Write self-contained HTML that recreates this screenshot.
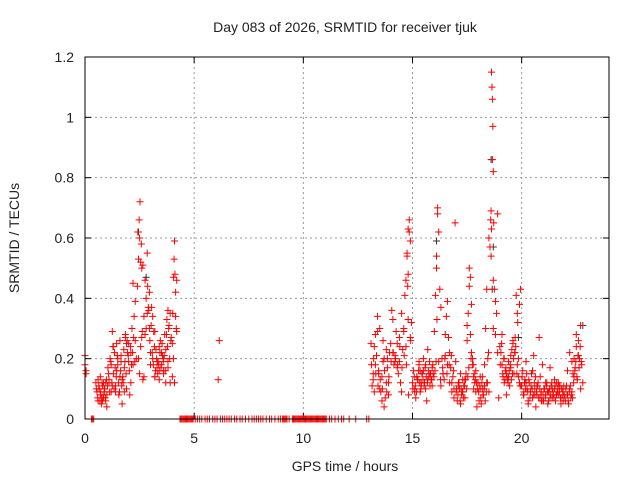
<!DOCTYPE html>
<html><head><meta charset="utf-8"><style>
html,body{margin:0;padding:0;background:#fff}
svg text{font-family:"Liberation Sans",sans-serif;fill:#222}
</style></head><body>
<svg id="chart" width="640" height="480" viewBox="0 0 640 480" xmlns="http://www.w3.org/2000/svg">
<rect width="640" height="480" fill="#fff"/>
<text x="345" y="32" font-size="14" text-anchor="middle">Day 083 of 2026, SRMTID for receiver tjuk</text>
<text x="345" y="471" font-size="14" text-anchor="middle">GPS time / hours</text>
<text transform="translate(19,238) rotate(-90)" font-size="14" text-anchor="middle">SRMTID / TECUs</text>
<g id="grid"></g>
<g id="ticks"></g>
<g id="marks"></g>
<rect x="85" y="57" width="524" height="362" fill="none" stroke="#000" stroke-width="1"/>
</svg>
<script>
const xTicks=[0,5,10,15,20];
const yTicks=[0,0.2,0.4,0.6,0.8,1,1.2];
const yTickLabels=["0","0.2","0.4","0.6","0.8","1","1.2"];
const redTimes=[0,0,0.05,0.05,0.5,0.55,0.6,0.65,0.7,0.75,0.8,0.85,0.9,0.95,1.0,0.6,0.7,0.8,0.9,1.0,0.65,0.75,0.85,0.95,
1.05,1.1,1.15,1.2,1.25,1.3,1.35,1.4,1.45,1.5,1.55,1.6,1.65,1.7,1.75,1.8,1.85,1.9,1.95,1.1,1.2,1.3,1.4,1.5,1.6,1.7,1.8,1.9,1.25,1.45,1.65,1.85,
2.0,2.05,2.1,2.15,2.2,2.25,2.3,2.35,2.0,2.1,2.2,2.3,2.4,2.42,2.45,2.48,2.5,2.52,2.55,2.58,2.6,2.62,2.65,2.7,2.75,2.8,2.85,2.9,2.95,2.45,2.55,2.65,2.75,2.85,2.95,2.5,2.6,2.7,2.8,
3.0,3.05,3.1,3.15,3.2,3.25,3.3,3.35,3.4,3.45,3.5,3.55,3.6,3.65,3.7,3.75,3.8,3.85,3.9,3.95,3.1,3.2,3.3,3.4,3.5,3.6,3.7,3.8,3.9,3.0,3.2,3.4,3.6,3.8,
4.0,4.02,4.05,4.08,4.1,4.12,4.15,4.18,4.2,4.0,4.05,4.1,4.15,4.2,6.1,6.15,
13.1,13.15,13.2,13.25,13.3,13.35,13.4,13.45,13.5,13.55,13.6,13.65,13.7,13.75,13.8,13.85,13.9,13.95,13.2,13.3,13.4,13.5,13.6,13.7,13.8,13.9,13.25,13.45,13.65,13.85,
14.0,14.05,14.1,14.15,14.2,14.25,14.3,14.35,14.4,14.45,14.5,14.55,14.6,14.65,14.7,14.75,14.8,14.85,14.9,14.95,14.1,14.2,14.3,14.4,14.5,14.6,14.7,14.8,14.9,14.75,14.8,14.85,14.78,14.82,
15.0,15.05,15.1,15.15,15.2,15.25,15.3,15.35,15.4,15.45,15.5,15.55,15.6,15.65,15.7,15.75,15.8,15.85,15.9,15.95,15.1,15.2,15.3,15.4,15.5,15.6,15.7,15.8,15.9,15.35,
16.0,16.05,16.1,16.15,16.2,16.25,16.3,16.35,16.4,16.45,16.5,16.55,16.6,16.65,16.7,16.75,16.8,16.85,16.9,16.95,16.1,16.15,16.12,16.2,16.3,16.4,16.5,16.6,16.7,16.8,16.9,
17.0,17.05,17.1,17.15,17.2,17.25,17.3,17.35,17.4,17.45,17.5,17.55,17.6,17.65,17.7,17.75,17.8,17.85,17.9,17.95,17.1,17.2,17.3,17.4,17.5,17.6,17.65,17.7,17.75,17.8,17.9,
18.0,18.05,18.1,18.15,18.2,18.25,18.3,18.35,18.4,18.45,18.5,18.55,18.6,18.62,18.64,18.66,18.68,18.7,18.72,18.75,18.8,18.85,18.9,18.95,18.1,18.2,18.3,18.4,18.5,18.6,18.7,18.8,18.9,18.58,18.62,18.66,18.7,
19.0,19.05,19.1,19.15,19.2,19.25,19.3,19.35,19.4,19.45,19.5,19.55,19.6,19.65,19.7,19.75,19.8,19.85,19.9,19.95,19.1,19.2,19.3,19.4,19.5,19.6,19.7,19.8,19.9,19.82,19.85,
20.0,20.05,20.1,20.15,20.2,20.25,20.3,20.35,20.4,20.45,20.5,20.55,20.6,20.65,20.7,20.75,20.8,20.85,20.9,20.95,20.1,20.2,20.3,20.4,20.5,20.6,20.7,20.8,20.9,
21.0,21.05,21.1,21.15,21.2,21.25,21.3,21.35,21.4,21.45,21.5,21.55,21.6,21.65,21.7,21.75,21.8,21.85,21.9,21.95,21.1,21.2,21.3,21.4,21.5,21.6,21.7,21.8,21.9,
22.0,22.05,22.1,22.15,22.2,22.25,22.3,22.35,22.4,22.45,22.5,22.55,22.6,22.65,22.7,22.75,22.8,22.1,22.2,22.3,22.4,22.5,22.6,22.7,22.8];
const redValues=[0.21,0.18,0.16,0.15,0.12,0.09,0.06,0.1,0.08,0.05,0.11,0.07,0.09,0.12,0.04,0.13,0.14,0.06,0.1,0.08,0.1,0.07,0.12,0.06,
0.17,0.12,0.2,0.09,0.29,0.15,0.22,0.11,0.25,0.18,0.08,0.14,0.21,0.05,0.12,0.17,0.28,0.1,0.22,0.13,0.18,0.24,0.09,0.2,0.26,0.13,0.09,0.25,0.11,0.16,0.19,0.27,
0.19,0.08,0.22,0.3,0.18,0.34,0.26,0.2,0.25,0.12,0.45,0.39,0.44,0.62,0.53,0.66,0.6,0.72,0.52,0.58,0.5,0.29,0.51,0.34,0.46,0.4,0.55,0.37,0.3,0.2,0.24,0.13,0.28,0.35,0.42,0.15,0.27,0.14,0.3,0.22,
0.37,0.2,0.29,0.14,0.23,0.17,0.19,0.13,0.26,0.18,0.21,0.15,0.28,0.23,0.33,0.36,0.31,0.35,0.27,0.34,0.14,0.19,0.16,0.22,0.2,0.12,0.17,0.12,0.18,0.29,0.24,0.16,0.19,0.14,
0.35,0.47,0.53,0.59,0.48,0.42,0.3,0.46,0.25,0.2,0.12,0.34,0.29,0.13,0.26,0.25,
0.11,0.15,0.24,0.28,0.21,0.34,0.16,0.3,0.09,0.14,0.26,0.04,0.07,0.12,0.17,0.08,0.22,0.13,0.18,0.29,0.1,0.06,0.2,0.23,0.12,0.09,0.15,0.19,
0.2,0.25,0.36,0.33,0.18,0.21,0.29,0.25,0.15,0.19,0.12,0.09,0.23,0.3,0.41,0.46,0.54,0.63,0.66,0.27,0.32,0.22,0.19,0.17,0.27,0.35,0.29,0.24,0.33,0.59,0.55,0.48,0.62,0.44,
0.08,0.12,0.16,0.1,0.07,0.14,0.13,0.18,0.09,0.11,0.15,0.2,0.12,0.1,0.06,0.23,0.14,0.11,0.13,0.17,0.15,0.09,0.14,0.19,0.12,0.16,0.18,0.13,0.15,0.11,
0.16,0.29,0.41,0.5,0.68,0.62,0.43,0.37,0.2,0.15,0.13,0.21,0.34,0.39,0.27,0.22,0.17,0.12,0.14,0.1,0.65,0.54,0.7,0.33,0.19,0.11,0.15,0.28,0.18,0.12,0.09,
0.07,0.09,0.06,0.12,0.1,0.05,0.08,0.13,0.11,0.07,0.15,0.26,0.35,0.5,0.47,0.38,0.2,0.14,0.12,0.16,0.04,0.11,0.15,0.09,0.13,0.31,0.44,0.28,0.22,0.18,0.1,
0.09,0.12,0.06,0.1,0.05,0.14,0.08,0.11,0.3,0.43,0.2,0.09,0.57,0.69,1.15,1.1,1.06,0.97,0.82,0.65,0.43,0.28,0.35,0.22,0.07,0.14,0.1,0.18,0.12,0.6,0.54,0.46,0.39,0.68,0.66,0.63,0.86,
0.3,0.24,0.22,0.18,0.14,0.12,0.16,0.08,0.13,0.19,0.11,0.17,0.23,0.25,0.15,0.27,0.41,0.35,0.2,0.12,0.43,0.28,0.2,0.15,0.14,0.21,0.26,0.22,0.18,0.38,0.32,
0.14,0.11,0.16,0.08,0.13,0.19,0.1,0.06,0.12,0.09,0.15,0.07,0.21,0.1,0.04,0.08,0.12,0.27,0.14,0.06,0.18,0.09,0.12,0.05,0.09,0.16,0.08,0.11,0.07,
0.09,0.06,0.1,0.08,0.12,0.05,0.09,0.17,0.11,0.07,0.08,0.1,0.06,0.12,0.09,0.08,0.11,0.07,0.1,0.06,0.08,0.12,0.09,0.07,0.1,0.13,0.08,0.11,0.05,
0.09,0.06,0.11,0.08,0.05,0.1,0.07,0.09,0.15,0.2,0.17,0.24,0.13,0.26,0.2,0.31,0.18,0.12,0.16,0.22,0.19,0.14,0.28,0.21,0.1];
const extraTimes=[0.52,0.58,0.63,0.68,0.72,0.78,0.83,0.88,0.93,0.98,1.03,1.08,1.13,1.18,1.23,1.28,1.33,1.38,1.43,1.48,1.53,1.58,1.63,1.68,1.73,1.78,1.83,1.88,1.93,1.98,2.03,2.08,2.13,2.18,2.23,2.28,
2.87,2.92,2.97,3.03,3.08,3.13,3.18,3.23,3.28,3.33,3.38,3.43,3.48,3.53,3.58,3.63,3.68,3.73,3.78,3.83,3.88,3.93,
13.12,13.22,13.32,13.42,13.52,13.62,13.72,13.82,13.92,14.02,14.12,14.22,14.32,14.42,14.52,14.62,14.72,14.92,
15.02,15.08,15.13,15.18,15.23,15.28,15.33,15.38,15.43,15.48,15.53,15.58,15.63,15.68,15.73,15.78,15.83,15.88,15.93,15.98,16.03,16.08,16.28,16.38,16.48,16.58,16.68,16.78,16.88,16.98,
17.02,17.08,17.13,17.18,17.23,17.28,17.33,17.38,17.43,17.48,17.53,17.58,17.68,17.78,17.83,17.88,17.93,17.98,18.03,18.08,18.13,18.18,18.23,18.28,18.33,18.38,18.43,18.48,
19.02,19.08,19.13,19.18,19.23,19.28,19.33,19.38,19.43,19.48,19.53,19.58,19.63,19.68,19.73,19.78,19.93,19.98,
20.02,20.08,20.13,20.18,20.23,20.28,20.33,20.38,20.43,20.48,20.53,20.58,20.63,20.68,20.73,20.78,20.83,20.88,20.93,20.98,
21.02,21.08,21.13,21.18,21.23,21.28,21.33,21.38,21.43,21.48,21.53,21.58,21.63,21.68,21.73,21.78,21.83,21.88,21.93,21.98,
22.02,22.08,22.13,22.18,22.23,22.28,22.33,22.38,22.43,22.48,22.53,22.58,22.63,22.68,22.73,22.78];
const extraValues=[0.1,0.07,0.11,0.06,0.09,0.12,0.08,0.1,0.07,0.13,0.11,0.15,0.09,0.19,0.12,0.24,0.1,0.17,0.14,0.21,0.12,0.09,0.16,0.11,0.14,0.23,0.19,0.15,0.26,0.21,0.16,0.24,0.18,0.22,0.27,0.19,
0.44,0.36,0.26,0.31,0.22,0.18,0.24,0.16,0.2,0.15,0.18,0.22,0.17,0.25,0.19,0.21,0.16,0.28,0.24,0.3,0.2,0.26,
0.18,0.2,0.15,0.11,0.13,0.1,0.16,0.09,0.14,0.19,0.22,0.2,0.18,0.24,0.17,0.21,0.18,0.26,
0.1,0.14,0.11,0.09,0.13,0.16,0.12,0.1,0.15,0.13,0.11,0.17,0.14,0.12,0.16,0.19,0.15,0.13,0.18,0.14,0.16,0.19,0.13,0.17,0.2,0.15,0.18,0.21,0.16,0.19,
0.1,0.08,0.12,0.06,0.1,0.09,0.07,0.11,0.13,0.1,0.14,0.17,0.2,0.18,0.15,0.13,0.12,0.1,0.09,0.11,0.07,0.12,0.08,0.1,0.06,0.09,0.12,
0.22,0.18,0.25,0.15,0.2,0.13,0.17,0.14,0.12,0.16,0.18,0.13,0.15,0.2,0.22,0.24,0.15,0.11,
0.11,0.14,0.08,0.12,0.1,0.15,0.09,0.13,0.07,0.11,0.1,0.08,0.12,0.14,0.09,0.11,0.07,0.1,0.08,0.06,
0.08,0.1,0.07,0.11,0.09,0.06,0.1,0.08,0.12,0.09,0.07,0.11,0.08,0.1,0.12,0.09,0.07,0.1,0.08,0.11,
0.07,0.1,0.08,0.06,0.09,0.11,0.08,0.07,0.12,0.16,0.19,0.14,0.21,0.17,0.24,0.19];
const zeroTimes=[0.3,0.35,0.4,4.35,4.4,4.45,4.5,4.55,4.6,4.65,4.7,4.75,4.8,4.85,4.9,4.95,5.05,5.15,5.25,5.35,5.5,5.6,5.7,5.85,5.95,6.05,6.2,6.3,6.4,6.5,6.6,6.7,6.85,6.95,7.1,7.2,7.35,7.5,7.65,7.75,7.85,7.95,8.05,8.15,8.3,8.45,8.55,8.7,8.85,8.95,9.05,9.1,9.15,9.2,9.25,9.35,9.5,9.55,9.6,9.65,9.7,9.75,9.8,9.85,9.9,9.95,10.0,10.05,10.1,10.15,10.2,10.25,10.3,10.35,10.4,10.45,10.5,10.55,10.6,10.65,10.7,10.75,10.8,10.85,10.9,10.95,11.0,11.05,11.2,11.3,11.45,11.6,11.75,11.85,12.1,12.4,12.9,13.0];
const blackTimes=[2.45,2.8,16.1,18.6,18.65,18.7,19.85,22.8];
const blackValues=[0.62,0.47,0.59,0.86,0.43,0.57,0.27,0.31];

const X0=85,X1=609,Y0=419,Y1=57,XMAX=24,YMAX=1.2;
const xs=v=>X0+(X1-X0)*v/XMAX;
const ys=v=>Y0-(Y0-Y1)*v/YMAX;
const NS="http://www.w3.org/2000/svg";
const grid=document.getElementById('grid'),ticks=document.getElementById('ticks'),marks=document.getElementById('marks');
function mk(tag,attrs,parent){const e=document.createElementNS(NS,tag);for(const k in attrs)e.setAttribute(k,attrs[k]);parent.appendChild(e);return e;}
xTicks.forEach(t=>{const x=xs(t);
 if(t>0){const g=mk('line',{x1:x,x2:x,y1:Y0,y2:Y1,stroke:'#999','stroke-dasharray':'2,3','stroke-width':1},grid);
 
 }
 mk('line',{x1:x,x2:x,y1:Y0,y2:Y0-6,stroke:'#000'},ticks);mk('line',{x1:x,x2:x,y1:Y1,y2:Y1+6,stroke:'#000'},ticks);
 const l=mk('text',{x:x,y:443,'font-size':14,'text-anchor':'middle'},ticks);l.textContent=t;
 
 });
yTicks.forEach((t,i)=>{const y=ys(t);
 if(t>0&&t<YMAX){const g=mk('line',{x1:X0,x2:X1,y1:y,y2:y,stroke:'#999','stroke-dasharray':'2,3','stroke-width':1},grid);
 
 }
 mk('line',{x1:X0,x2:X0+6,y1:y,y2:y,stroke:'#000'},ticks);mk('line',{x1:X1,x2:X1-6,y1:y,y2:y,stroke:'#000'},ticks);
 const l=mk('text',{x:74,y:y+5,'font-size':14,'text-anchor':'end'},ticks);l.textContent=yTickLabels[i];
 
 });
function plus(t,v,color,name){const x=xs(t),y=ys(v);
 const p=mk('path',{d:`M${x-3.5},${y}h7M${x},${y-3.5}v7`,stroke:color,'stroke-width':1,fill:'none'},marks);
 
 }
blackTimes.forEach((t,i)=>plus(t,blackValues[i],'#333','black-point'));
redTimes.forEach((t,i)=>plus(t,redValues[i],'#f00','red-point'));
extraTimes.forEach((t,i)=>plus(t,extraValues[i],'#f00','red-point'));
zeroTimes.forEach(t=>plus(t,0,'#f00','zero-point'));
</script>
</body></html>
